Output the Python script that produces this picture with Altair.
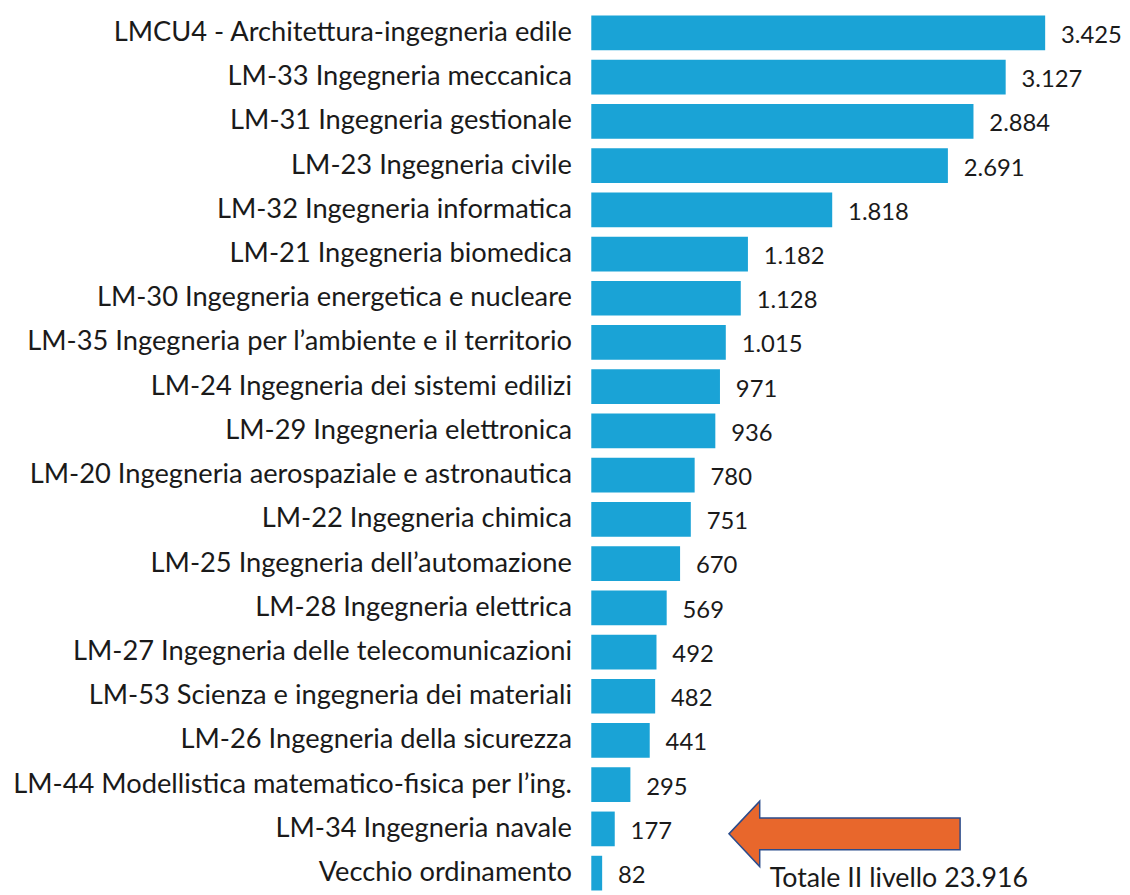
import altair as alt
import pandas as pd

categories = [
    "LMCU4 - Architettura-ingegneria edile",
    "LM-33 Ingegneria meccanica",
    "LM-31 Ingegneria gestionale",
    "LM-23 Ingegneria civile",
    "LM-32 Ingegneria informatica",
    "LM-21 Ingegneria biomedica",
    "LM-30 Ingegneria energetica e nucleare",
    "LM-35 Ingegneria per l\u2019ambiente e il territorio",
    "LM-24 Ingegneria dei sistemi edilizi",
    "LM-29 Ingegneria elettronica",
    "LM-20 Ingegneria aerospaziale e astronautica",
    "LM-22 Ingegneria chimica",
    "LM-25 Ingegneria dell\u2019automazione",
    "LM-28 Ingegneria elettrica",
    "LM-27 Ingegneria delle telecomunicazioni",
    "LM-53 Scienza e ingegneria dei materiali",
    "LM-26 Ingegneria della sicurezza",
    "LM-44 Modellistica matematico-fisica per l\u2019ing.",
    "LM-34 Ingegneria navale",
    "Vecchio ordinamento",
]
values = [3425, 3127, 2884, 2691, 1818, 1182, 1128, 1015, 971, 936,
          780, 751, 670, 569, 492, 482, 441, 295, 177, 82]
value_labels = ["3.425", "3.127", "2.884", "2.691", "1.818", "1.182", "1.128",
                "1.015", "971", "936", "780", "751", "670", "569", "492",
                "482", "441", "295", "177", "82"]

# annotation (arrow pointing at LM-34 and total text)
arrow_x = [1911]
arrow_cat = ["LM-34 Ingegneria navale"]
total_x = [1346]
total_cat = ["Vecchio ordinamento"]
total_text = ["Totale II livello 23.916"]

df = pd.DataFrame({"cat": categories, "val": values, "lab": value_labels})
df_arrow = pd.DataFrame({"x": arrow_x, "cat": arrow_cat})
df_total = pd.DataFrame({"x": total_x, "cat": total_cat, "t": total_text})

FONT = "Lato"
xscale = alt.Scale(domain=[0, 3900])
yscale = alt.Scale(domain=categories, paddingInner=0.215, paddingOuter=0)

y_enc = alt.Y("cat:N", sort=None, scale=yscale,
              axis=alt.Axis(title=None, ticks=False, domain=False,
                            labelFontSize=27.5, labelFont=FONT,
                            labelColor="#1a1a1a", labelPadding=20,
                            labelLimit=0))

bars = alt.Chart(df).mark_bar(color="#1AA3D6").encode(
    x=alt.X("val:Q", scale=xscale, axis=None),
    y=y_enc,
)

text = alt.Chart(df).mark_text(
    align="left", baseline="middle", dx=16, dy=3,
    font=FONT, fontSize=24, color="#1a1a1a"
).encode(
    x=alt.X("val:Q", scale=xscale),
    y=alt.Y("cat:N", sort=None, scale=yscale),
    text="lab:N",
)

arrow_path = ("M -1 0 L -0.734 -0.283 L -0.734 -0.137 L 1 -0.137 "
              "L 1 0.137 L -0.734 0.137 L -0.734 0.283 Z")
arrow = alt.Chart(df_arrow).mark_point(
    shape=arrow_path, size=54289, filled=True, fill="#E8672C",
    stroke="#2B4C8C", strokeWidth=1.5, opacity=1, yOffset=5
).encode(
    x=alt.X("x:Q", scale=xscale),
    y=alt.Y("cat:N", sort=None, scale=yscale),
)

total = alt.Chart(df_total).mark_text(
    align="left", baseline="middle", dy=6,
    font=FONT, fontSize=27, color="#1a1a1a"
).encode(
    x=alt.X("x:Q", scale=xscale),
    y=alt.Y("cat:N", sort=None, scale=yscale),
    text="t:N",
)

chart = alt.layer(bars, text, arrow, total).properties(
    width=521, height=882,
    padding={"left": 588, "top": 4, "right": 14, "bottom": 10},
    autosize="none",
    background="white",
).configure_view(stroke=None)

chart.save("out.html", embed_options={"renderer": "svg", "actions": False})
